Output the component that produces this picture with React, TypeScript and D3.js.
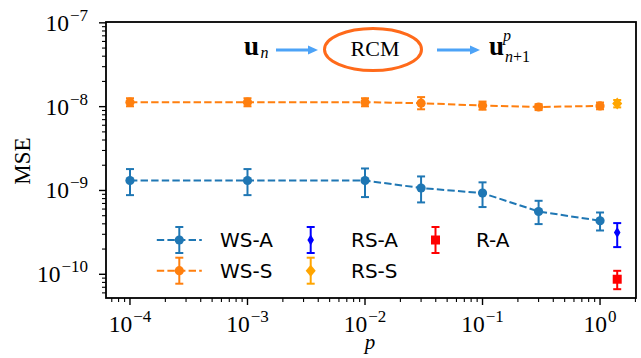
import React from 'react';
import * as d3 from 'd3';

// ---------- data ----------
const pValues = [1e-4, 1e-3, 1e-2, 3e-2, 1e-1, 3e-1, 1];
const wsA = [1.315e-9, 1.315e-9, 1.315e-9, 1.07e-9, 0.93e-9, 0.561e-9, 0.435e-9];
const wsAUpper = [1.8e-9, 1.8e-9, 1.83e-9, 1.47e-9, 1.25e-9, 0.753e-9, 0.546e-9];
const wsALower = [0.88e-9, 0.88e-9, 0.834e-9, 0.72e-9, 0.634e-9, 0.397e-9, 0.333e-9];
const wsS = [1.13e-8, 1.13e-8, 1.13e-8, 1.1e-8, 1.03e-8, 0.99e-8, 1.02e-8];
const wsSUpper = [1.26e-8, 1.26e-8, 1.26e-8, 1.3e-8, 1.15e-8, 1.07e-8, 1.12e-8];
const wsSLower = [1.01e-8, 1.01e-8, 1.01e-8, 0.93e-8, 0.92e-8, 0.91e-8, 0.93e-8];
const pSingle = 1.4;
const rsA = { v: 3.15e-10, hi: 4.08e-10, lo: 2.11e-10 };
const rsS = { v: 1.09e-8, hi: 1.2e-8, lo: 0.98e-8 };
const rA = { v: 0.873e-10, hi: 1.1e-10, lo: 0.664e-10 };
const xMajor = [-4, -3, -2, -1, 0];
const yMajor = [-10, -9, -8, -7];

const C_WSA = '#1f77b4';
const C_WSS = '#ff7f0e';
const C_RSA = '#0000ff';
const C_RSS = '#ffa500';
const C_RA = '#ff0000';
const C_ARROW = '#4da3f7';
const C_ELL = '#ff6a1a';

const W = 641, H = 358;
const L = 106, R = 636, T = 22, B = 298;
const x = d3.scaleLog().domain([Math.pow(10, -4.204), Math.pow(10, 0.306)]).range([L, R]);
const y = d3.scaleLog().domain([Math.pow(10, -10.283), Math.pow(10, -6.99)]).range([B, T]);

const SERIF = '"Liberation Serif", "DejaVu Serif", serif';
const SANS = '"DejaVu Sans", sans-serif';

function minorTicks(scale: any) {
  const [a, b] = scale.domain();
  const out: number[] = [];
  for (let d = Math.floor(Math.log10(a)); d <= Math.ceil(Math.log10(b)); d++) {
    for (let k = 2; k <= 9; k++) {
      const v = k * Math.pow(10, d);
      if (v >= a && v <= b) out.push(v);
    }
  }
  return out;
}

function ErrBar({ cx, y1, y2, color, cap = 4, w = 2 }: any) {
  return (
    <g stroke={color} strokeWidth={w}>
      <line x1={cx} x2={cx} y1={y1} y2={y2} />
      <line x1={cx - cap} x2={cx + cap} y1={y1} y2={y1} />
      <line x1={cx - cap} x2={cx + cap} y1={y2} y2={y2} />
    </g>
  );
}

function Marker({ kind, cx, cy, color }: any) {
  if (kind === 'circle') return <circle cx={cx} cy={cy} r={4.6} fill={color} />;
  if (kind === 'square') return <rect x={cx - 4.5} y={cy - 4.5} width={9} height={9} fill={color} />;
  if (kind === 'thin') return <path d={`M${cx},${cy - 5.5}L${cx + 3.3},${cy}L${cx},${cy + 5.5}L${cx - 3.3},${cy}Z`} fill={color} />;
  return <path d={`M${cx},${cy - 6}L${cx + 5},${cy}L${cx},${cy + 6}L${cx - 5},${cy}Z`} fill={color} />;
}

function Pow10({ e, xx, yy, anchor }: any) {
  const sup = e === 0 ? '0' : `\u2212${Math.abs(e)}`;
  return (
    <text x={xx} y={yy} textAnchor={anchor} fontFamily={SERIF} fontSize={23.5} fill="#000">
      10
      <tspan fontSize={17} dx={1} dy={-10}>{sup}</tspan>
    </text>
  );
}

function Arrow({ x1, x2, yy }: any) {
  return (
    <g>
      <line x1={x1} x2={x2 - 8} y1={yy} y2={yy} stroke={C_ARROW} strokeWidth={3.2} />
      <path d={`M${x2},${yy}L${x2 - 10},${yy - 4.5}L${x2 - 10},${yy + 4.5}Z`} fill={C_ARROW} />
    </g>
  );
}

export default function App() {
  const line = d3.line<number>().x((_, i) => x(pValues[i])).y((d) => y(d));
  const xs = pValues.map((p) => x(p));
  const legRows = [240, 270.7];
  return (
    <svg width={W} height={H} style={{ position: 'absolute', left: 0, top: 0, background: '#fff' }}>
      <rect width={W} height={H} fill="#fff" />
      {/* ticks */}
      <g stroke="#000">
        {xMajor.map((e) => (
          <line key={'xm' + e} x1={x(Math.pow(10, e))} x2={x(Math.pow(10, e))} y1={B} y2={B + 7} strokeWidth={1.4} />
        ))}
        {minorTicks(x).map((v, i) => (
          <line key={'xn' + i} x1={x(v)} x2={x(v)} y1={B} y2={B + 4} strokeWidth={1.1} />
        ))}
        {yMajor.map((e) => (
          <line key={'ym' + e} x1={L - 7} x2={L} y1={y(Math.pow(10, e))} y2={y(Math.pow(10, e))} strokeWidth={1.4} />
        ))}
        {minorTicks(y).map((v, i) => (
          <line key={'yn' + i} x1={L - 4} x2={L} y1={y(v)} y2={y(v)} strokeWidth={1.1} />
        ))}
      </g>
      {xMajor.map((e) => (
        <Pow10 key={'xl' + e} e={e} xx={x(Math.pow(10, e))} yy={332} anchor="middle" />
      ))}
      {yMajor.map((e) => (
        <Pow10 key={'yl' + e} e={e} xx={88} yy={y(Math.pow(10, e)) + 8} anchor="end" />
      ))}
      <text x={370} y={349} textAnchor="middle" fontFamily={SERIF} fontStyle="italic" fontSize={21}>p</text>
      <text transform="translate(30,161) rotate(-90)" textAnchor="middle" fontFamily={SERIF} fontSize={23}>MSE</text>

      {/* WS-S */}
      <path d={line(wsS) || ''} fill="none" stroke={C_WSS} strokeWidth={2} strokeDasharray="7.4,3.2" />
      {pValues.map((p, i) => (
        <g key={'s' + i}>
          <ErrBar cx={xs[i]} y1={y(wsSUpper[i])} y2={y(wsSLower[i])} color={C_WSS} />
          <Marker kind="circle" cx={xs[i]} cy={y(wsS[i])} color={C_WSS} />
        </g>
      ))}
      {/* WS-A */}
      <path d={line(wsA) || ''} fill="none" stroke={C_WSA} strokeWidth={2} strokeDasharray="7.4,3.2" />
      {pValues.map((p, i) => (
        <g key={'a' + i}>
          <ErrBar cx={xs[i]} y1={y(wsAUpper[i])} y2={y(wsALower[i])} color={C_WSA} />
          <Marker kind="circle" cx={xs[i]} cy={y(wsA[i])} color={C_WSA} />
        </g>
      ))}
      {/* single points */}
      <ErrBar cx={x(pSingle)} y1={y(rsS.hi)} y2={y(rsS.lo)} color={C_RSS} />
      <Marker kind="diamond" cx={x(pSingle)} cy={y(rsS.v)} color={C_RSS} />
      <ErrBar cx={x(pSingle)} y1={y(rsA.hi)} y2={y(rsA.lo)} color={C_RSA} />
      <Marker kind="thin" cx={x(pSingle)} cy={y(rsA.v)} color={C_RSA} />
      <ErrBar cx={x(pSingle)} y1={y(rA.hi)} y2={y(rA.lo)} color={C_RA} />
      <Marker kind="square" cx={x(pSingle)} cy={y(rA.v)} color={C_RA} />

      {/* legend */}
      {[
        { name: 'WS-A', c: C_WSA, row: 0, col: 0, line: true, m: 'circle' },
        { name: 'WS-S', c: C_WSS, row: 1, col: 0, line: true, m: 'circle' },
        { name: 'RS-A', c: C_RSA, row: 0, col: 1, line: false, m: 'thin' },
        { name: 'RS-S', c: C_RSS, row: 1, col: 1, line: false, m: 'diamond' },
        { name: 'R-A', c: C_RA, row: 0, col: 2, line: false, m: 'square' },
      ].map((it) => {
        const hx = [179.3, 310.7, 435.5][it.col];
        const tx = [220, 351, 476][it.col];
        const yy = legRows[it.row];
        return (
          <g key={it.name}>
            {it.line && (
              <line x1={hx - 22.5} x2={hx + 22.5} y1={yy} y2={yy} stroke={it.c} strokeWidth={2} strokeDasharray="7.4,3.2" />
            )}
            <ErrBar cx={hx} y1={yy - 13} y2={yy + 13} color={it.c} />
            <Marker kind={it.m} cx={hx} cy={yy} color={it.c} />
            <text x={tx} y={yy + 7.3} fontFamily={SANS} fontSize={20} fill="#000">{it.name}</text>
          </g>
        );
      })}

      {/* annotation */}
      <text x={244} y={55} fontFamily={SERIF} fontSize={27} fontWeight="bold">u</text>
      <text x={260.5} y={58} fontFamily={SERIF} fontSize={16} fontStyle="italic">n</text>
      <Arrow x1={276} x2={318} yy={50} />
      <ellipse cx={373} cy={49.5} rx={48.5} ry={21} fill="none" stroke={C_ELL} strokeWidth={3} />
      <text x={375} y={56} textAnchor="middle" fontFamily={SERIF} fontSize={22}>RCM</text>
      <Arrow x1={437} x2={480} yy={50} />
      <text x={489} y={55} fontFamily={SERIF} fontSize={27} fontWeight="bold">u</text>
      <text x={503} y={41} fontFamily={SERIF} fontSize={16} fontStyle="italic">p</text>
      <text x={505} y={62} fontFamily={SERIF} fontSize={16}>
        <tspan fontStyle="italic">n</tspan>+1
      </text>

      {/* frame */}
      <rect x={L} y={T} width={R - L} height={B - T} fill="none" stroke="#000" strokeWidth={1.8} />
    </svg>
  );
}
